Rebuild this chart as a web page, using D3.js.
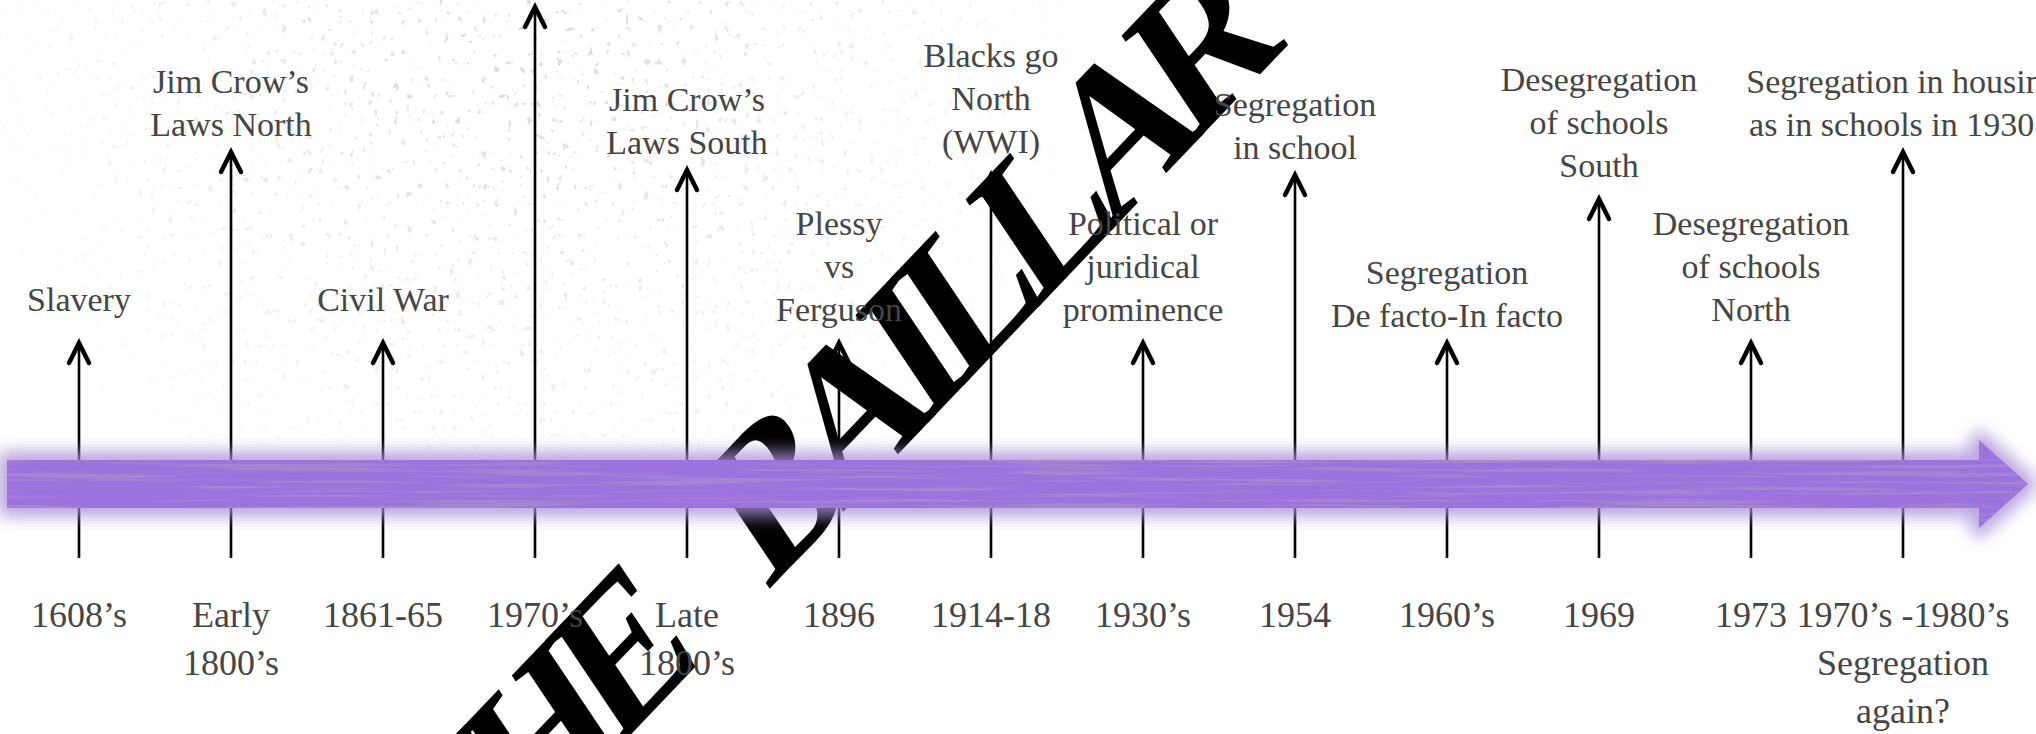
<!DOCTYPE html>
<html>
<head>
<meta charset="utf-8">
<script src="https://cdn.jsdelivr.net/npm/d3@7"></script>
<style>
  html, body { margin: 0; padding: 0; background: #fff; overflow: hidden; }
  svg { display: block; }
</style>
</head>
<body>
<script>
// Timeline data: date under the bar, event above it, and how far up its arrow reaches.
var dates = ["1608’s", "Early\n1800’s", "1861-65", "1970’s", "Late\n1800’s", "1896", "1914-18", "1930’s", "1954", "1960’s", "1969", "1973", "1970’s -1980’s\nSegregation\nagain?"];
var events = ["Slavery", "Jim Crow’s\nLaws North", "Civil War", "", "Jim Crow’s\nLaws South", "Plessy\nvs\nFerguson", "Blacks go\nNorth\n(WWI)", "Political or\njuridical\nprominence", "Segregation\nin school", "Segregation\nDe facto-In facto", "Desegregation\nof schools\nSouth", "Desegregation\nof schools\nNorth", "Segregation in housing\nas in schools in 1930’s"];
var reach = [215, 406, 215, 551, 388, 215, 383, 215, 383, 215, 359, 215, 406];
var watermark = "THE BAILLAR";

// size of the page
var width = 2036;
var height = 734;

// bar geometry
var barY = 484, barHalf = 24, barStart = 7, headStart = 1979, headEnd = 2028, headHalf = 44;
var textColor = "#454545";
// gap between last line of an event label and its arrow tip, by line count
var labelGap = [0, 32, 16, 22];

var x = d3.scalePoint().domain(d3.range(dates.length)).range([79, 1903]);
var y = d3.scaleLinear().domain([0, 560]).range([558, -2]);

var svg = d3.select("body").append("svg")
  .attr("width", width)
  .attr("height", height);

var defs = svg.append("defs");

// wood-like streaks for the bar
var grain = defs.append("filter").attr("id", "grain")
  .attr("filterUnits", "userSpaceOnUse")
  .attr("x", 0).attr("y", 420).attr("width", width).attr("height", 130);
grain.append("feTurbulence").attr("type", "fractalNoise")
  .attr("baseFrequency", "0.005 0.22").attr("numOctaves", 3).attr("seed", 7).attr("result", "n");
grain.append("feColorMatrix").attr("in", "n").attr("type", "matrix")
  .attr("values", "0 0 0 0 0.38  0 0 0 0 0.24  0 0 0 0 0.62  5.5 0 0 0 -2.75").attr("result", "streak");
grain.append("feComposite").attr("in", "streak").attr("in2", "SourceGraphic").attr("operator", "in");

// soft glow round the bar
defs.append("filter").attr("id", "glow")
  .attr("x", "-5%").attr("y", "-80%").attr("width", "110%").attr("height", "260%")
  .append("feGaussianBlur").attr("stdDeviation", 8);

// faint speckles top left
var speck = defs.append("filter").attr("id", "speck")
  .attr("filterUnits", "userSpaceOnUse")
  .attr("x", 0).attr("y", 0).attr("width", 1100).attr("height", 450);
speck.append("feTurbulence").attr("type", "fractalNoise")
  .attr("baseFrequency", "0.16 0.12").attr("numOctaves", 2).attr("seed", 11).attr("result", "n");
speck.append("feColorMatrix").attr("in", "n").attr("type", "matrix")
  .attr("values", "0 0 0 0 0.5  0 0 0 0 0.5  0 0 0 0 0.5  14 0 0 0 -9.6");

var rg = defs.append("radialGradient").attr("id", "fade")
  .attr("gradientUnits", "userSpaceOnUse").attr("cx", 520).attr("cy", 30).attr("r", 600);
rg.append("stop").attr("offset", 0).attr("stop-color", "#fff");
rg.append("stop").attr("offset", 0.6).attr("stop-color", "#666");
rg.append("stop").attr("offset", 1).attr("stop-color", "#000");
defs.append("mask").attr("id", "fadeMask")
  .append("rect").attr("width", 1100).attr("height", 450).attr("fill", "url(#fade)");

svg.append("rect")
  .attr("width", 1100).attr("height", 450)
  .attr("fill", "#fff")
  .attr("filter", "url(#speck)")
  .attr("mask", "url(#fadeMask)")
  .attr("opacity", 0.55);

// watermark: rotated, then squeezed sideways like the rest of the picture
svg.append("text")
  .attr("transform", "translate(452,922) scale(0.8,1) rotate(-40)")
  .style("font-family", "'Liberation Serif', serif")
  .style("font-weight", "bold")
  .style("font-size", "215px")
  .style("letter-spacing", "-22px")
  .style("word-spacing", "95px")
  .attr("fill", "#000")
  .text(watermark);

// arrows going up from the bar
var arrows = svg.append("g").selectAll("g")
  .data(reach)
  .enter().append("g");

arrows.append("line")
  .attr("x1", function (d, i) { return x(i); })
  .attr("x2", function (d, i) { return x(i); })
  .attr("y1", y(0))
  .attr("y2", function (d) { return y(d) + 1; })
  .attr("stroke", "#000")
  .attr("stroke-width", 2.6);

arrows.append("path")
  .attr("d", function (d, i) {
    var px = x(i), py = y(d);
    return "M" + (px - 10) + "," + (py + 20) + "L" + px + "," + py + "L" + (px + 10) + "," + (py + 20);
  })
  .attr("fill", "none")
  .attr("stroke", "#000")
  .attr("stroke-width", 4.5)
  .attr("stroke-linecap", "round");

// the big bar arrow
var barPath = "M" + barStart + "," + (barY - barHalf) +
  "L" + headStart + "," + (barY - barHalf) +
  "L" + headStart + "," + (barY - headHalf) +
  "L" + headEnd + "," + barY +
  "L" + headStart + "," + (barY + headHalf) +
  "L" + headStart + "," + (barY + barHalf) +
  "L" + barStart + "," + (barY + barHalf) + "Z";

svg.append("path")
  .attr("d", barPath)
  .attr("fill", "#a990d8")
  .attr("stroke", "#a990d8")
  .attr("stroke-width", 18)
  .attr("stroke-linejoin", "round")
  .attr("opacity", 0.8)
  .attr("filter", "url(#glow)");

svg.append("path")
  .attr("d", barPath)
  .attr("fill", "#9b72de");

svg.append("path")
  .attr("d", barPath)
  .attr("fill", "#9b72de")
  .attr("filter", "url(#grain)");

// event labels above
var topLabels = svg.append("g")
  .style("font-family", "'Liberation Serif', serif")
  .style("font-size", "34px")
  .attr("fill", textColor)
  .attr("text-anchor", "middle");

events.forEach(function (ev, i) {
  if (!ev) return;
  var lines = ev.split("\n");
  var last = y(reach[i]) - labelGap[lines.length];
  var t = topLabels.append("text");
  lines.forEach(function (ln, j) {
    t.append("tspan")
      .attr("x", x(i))
      .attr("y", last - (lines.length - 1 - j) * 43)
      .text(ln);
  });
});

// date labels below
var bottomLabels = svg.append("g")
  .style("font-family", "'Liberation Serif', serif")
  .style("font-size", "36px")
  .attr("fill", textColor)
  .attr("text-anchor", "middle");

dates.forEach(function (dt, i) {
  var t = bottomLabels.append("text");
  dt.split("\n").forEach(function (ln, j) {
    t.append("tspan")
      .attr("x", x(i))
      .attr("y", 627 + j * 48)
      .text(ln);
  });
});
</script>
</body>
</html>
